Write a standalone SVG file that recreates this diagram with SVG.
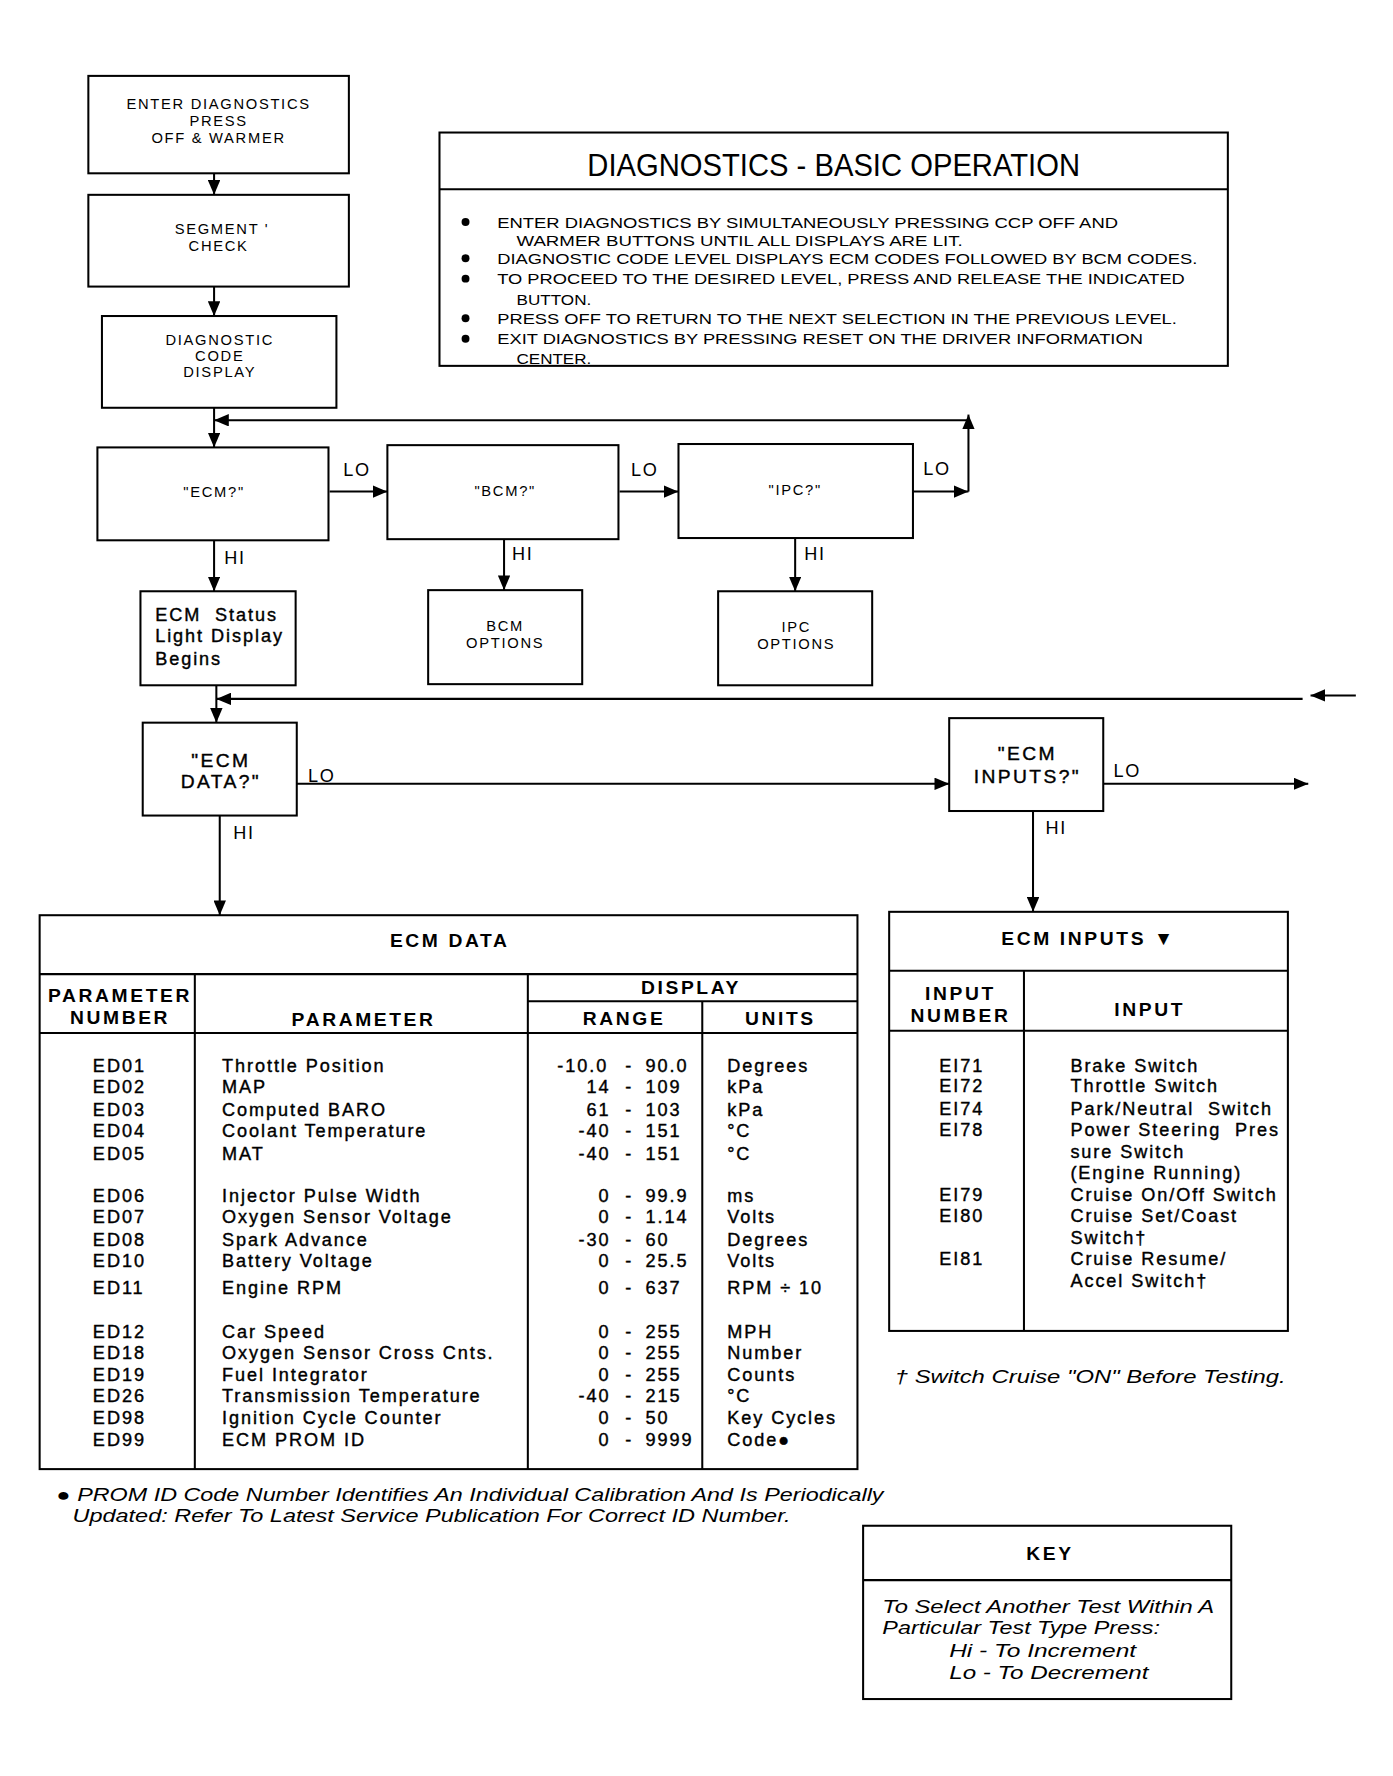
<svg xmlns="http://www.w3.org/2000/svg" width="1393" height="1776" viewBox="0 0 1393 1776">
<defs>
<style>
.bx{fill:#fff;stroke:#000;stroke-width:1.8}
.ln{fill:none;stroke:#000;stroke-width:1.8}
.t{font-family:"Liberation Sans",Arial,sans-serif;fill:#000}
.s{font-size:13px;letter-spacing:1.5px}
.m{font-size:16px;letter-spacing:1.5px}
.b{font-size:17px;font-weight:bold;letter-spacing:2.3px}
.d{font-size:16px;letter-spacing:1.7px;stroke:#000;stroke-width:0.35px}
.q{font-size:17px;letter-spacing:2.1px;stroke:#000;stroke-width:0.35px}
.i{font-size:16px;font-style:italic}
.c{text-anchor:middle}
.e{text-anchor:end}
</style>
<marker id="ah" markerUnits="userSpaceOnUse" markerWidth="13" markerHeight="11" refX="13" refY="5.5" orient="auto">
<path d="M0,0 L13,5.5 L0,11 z" fill="#000"/>
</marker>
</defs>
<rect width="1393" height="1776" fill="#fff"/>
<g transform="scale(1.1327)">

<g id="connectors">
<line class="ln" x1="189" y1="153" x2="189" y2="172" marker-end="url(#ah)"/>
<line class="ln" x1="189" y1="253" x2="189" y2="279" marker-end="url(#ah)"/>
<line class="ln" x1="189" y1="360" x2="189" y2="395" marker-end="url(#ah)"/>
<line class="ln" x1="806" y1="434" x2="855" y2="434" marker-end="url(#ah)"/>
<line class="ln" x1="855" y1="434" x2="855" y2="366" marker-end="url(#ah)"/>
<line class="ln" x1="855" y1="371" x2="189" y2="371" marker-end="url(#ah)"/>
<line class="ln" x1="291" y1="434" x2="342" y2="434" marker-end="url(#ah)"/>
<line class="ln" x1="547" y1="434" x2="599" y2="434" marker-end="url(#ah)"/>
<line class="ln" x1="189" y1="477" x2="189" y2="522" marker-end="url(#ah)"/>
<line class="ln" x1="445" y1="476" x2="445" y2="521" marker-end="url(#ah)"/>
<line class="ln" x1="702" y1="475" x2="702" y2="522" marker-end="url(#ah)"/>
<line class="ln" x1="191" y1="605" x2="191" y2="638" marker-end="url(#ah)"/>
<line class="ln" x1="1150" y1="617" x2="191" y2="617" marker-end="url(#ah)"/>
<line class="ln" x1="1197" y1="614" x2="1157" y2="614" marker-end="url(#ah)"/>
<line class="ln" x1="262" y1="692" x2="838" y2="692" marker-end="url(#ah)"/>
<line class="ln" x1="974" y1="692" x2="1155" y2="692" marker-end="url(#ah)"/>
<line class="ln" x1="194" y1="720" x2="194" y2="808" marker-end="url(#ah)"/>
<line class="ln" x1="912" y1="716" x2="912" y2="805" marker-end="url(#ah)"/>
<text class="t m" x="303" y="420">LO</text>
<text class="t m" x="557" y="420">LO</text>
<text class="t m" x="815" y="419">LO</text>
<text class="t m" x="198" y="498">HI</text>
<text class="t m" x="452" y="494">HI</text>
<text class="t m" x="710" y="494">HI</text>
<text class="t m" x="272" y="690">LO</text>
<text class="t m" x="983" y="686">LO</text>
<text class="t m" x="206" y="741">HI</text>
<text class="t m" x="923" y="736">HI</text>
</g>

<g id="enter">
<rect class="bx" x="78" y="67" width="230" height="86"/>
<text class="t s c" x="193" y="96">ENTER DIAGNOSTICS</text>
<text class="t s c" x="193" y="111">PRESS</text>
<text class="t s c" x="193" y="126">OFF &amp; WARMER</text>
</g>
<g id="segment">
<rect class="bx" x="78" y="172" width="230" height="81"/>
<text class="t s c" x="196" y="207">SEGMENT '</text>
<text class="t s c" x="193" y="222">CHECK</text>
</g>
<g id="codedisplay">
<rect class="bx" x="90" y="279" width="207" height="81"/>
<text class="t s c" x="194" y="305">DIAGNOSTIC</text>
<text class="t s c" x="194" y="319">CODE</text>
<text class="t s c" x="194" y="333">DISPLAY</text>
</g>

<g id="basic">
<rect class="bx" x="388" y="117" width="696" height="206"/>
<line class="ln" x1="388" y1="167" x2="1084" y2="167"/>
<text class="t c" x="736" y="155" font-size="28" textLength="435" lengthAdjust="spacingAndGlyphs">DIAGNOSTICS - BASIC OPERATION</text>
<g class="t" font-size="12.5">
<circle cx="411" cy="196" r="3.5"/>
<circle cx="411" cy="228" r="3.5"/>
<circle cx="411" cy="246" r="3.5"/>
<circle cx="411" cy="281" r="3.5"/>
<circle cx="411" cy="299" r="3.5"/>
<text x="439" y="201" textLength="548" lengthAdjust="spacingAndGlyphs">ENTER DIAGNOSTICS BY SIMULTANEOUSLY PRESSING CCP OFF AND</text>
<text x="456" y="217" textLength="394" lengthAdjust="spacingAndGlyphs">WARMER BUTTONS UNTIL ALL DISPLAYS ARE LIT.</text>
<text x="439" y="233" textLength="618" lengthAdjust="spacingAndGlyphs">DIAGNOSTIC CODE LEVEL DISPLAYS ECM CODES FOLLOWED BY BCM CODES.</text>
<text x="439" y="251" textLength="607" lengthAdjust="spacingAndGlyphs">TO PROCEED TO THE DESIRED LEVEL, PRESS AND RELEASE THE INDICATED</text>
<text x="456" y="269" textLength="66" lengthAdjust="spacingAndGlyphs">BUTTON.</text>
<text x="439" y="286" textLength="600" lengthAdjust="spacingAndGlyphs">PRESS OFF TO RETURN TO THE NEXT SELECTION IN THE PREVIOUS LEVEL.</text>
<text x="439" y="304" textLength="570" lengthAdjust="spacingAndGlyphs">EXIT DIAGNOSTICS BY PRESSING RESET ON THE DRIVER INFORMATION</text>
<text x="456" y="321" textLength="66" lengthAdjust="spacingAndGlyphs">CENTER.</text>
</g>
</g>

<g id="ecmq">
<rect class="bx" x="86" y="395" width="204" height="82"/>
<text class="t s c" x="189" y="439">"ECM?"</text>
</g>
<g id="bcmq">
<rect class="bx" x="342" y="393" width="204" height="83"/>
<text class="t s c" x="446" y="438">"BCM?"</text>
</g>
<g id="ipcq">
<rect class="bx" x="599" y="392" width="207" height="83"/>
<text class="t s c" x="702" y="437">"IPC?"</text>
</g>

<g id="ecmstatus">
<rect class="bx" x="124" y="522" width="137" height="83"/>
<text class="t d" x="137" y="548">ECM&#160;&#160;Status</text>
<text class="t d" x="137" y="567">Light Display</text>
<text class="t d" x="137" y="587">Begins</text>
</g>
<g id="bcmoptions">
<rect class="bx" x="378" y="521" width="136" height="83"/>
<text class="t s c" x="446" y="557">BCM</text>
<text class="t s c" x="446" y="572">OPTIONS</text>
</g>
<g id="ipcoptions">
<rect class="bx" x="634" y="522" width="136" height="83"/>
<text class="t s c" x="703" y="558">IPC</text>
<text class="t s c" x="703" y="573">OPTIONS</text>
</g>

<g id="ecmdataq">
<rect class="bx" x="126" y="638" width="136" height="82"/>
<text class="t q c" x="195" y="677">"ECM</text>
<text class="t q c" x="195" y="696">DATA?"</text>
</g>
<g id="ecminputsq">
<rect class="bx" x="838" y="634" width="136" height="82"/>
<text class="t q c" x="907" y="671">"ECM</text>
<text class="t q c" x="907" y="691">INPUTS?"</text>
</g>

<g id="ecmdata">
<rect class="bx" x="35" y="808" width="722" height="489"/>
<line class="ln" x1="35" y1="860" x2="757" y2="860"/>
<line class="ln" x1="35" y1="912" x2="757" y2="912"/>
<line class="ln" x1="172" y1="860" x2="172" y2="1297"/>
<line class="ln" x1="466" y1="860" x2="466" y2="1297"/>
<line class="ln" x1="620" y1="884" x2="620" y2="1297"/>
<line class="ln" x1="466" y1="884" x2="757" y2="884"/>
<text class="t b c" x="397" y="836">ECM DATA</text>
<text class="t b c" x="106" y="885">PARAMETER</text>
<text class="t b c" x="106" y="904">NUMBER</text>
<text class="t b c" x="321" y="906">PARAMETER</text>
<text class="t b c" x="610" y="878">DISPLAY</text>
<text class="t b c" x="551" y="905">RANGE</text>
<text class="t b c" x="689" y="905">UNITS</text>
<g class="t d">
<text x="82" y="946">ED01</text><text x="196" y="946">Throttle Position</text><text class="e" x="537" y="946">-10.0</text><text x="552" y="946">-</text><text x="570" y="946">90.0</text><text x="642" y="946">Degrees</text>
<text x="82" y="965">ED02</text><text x="196" y="965">MAP</text><text class="e" x="539" y="965">14</text><text x="552" y="965">-</text><text x="570" y="965">109</text><text x="642" y="965">kPa</text>
<text x="82" y="985">ED03</text><text x="196" y="985">Computed BARO</text><text class="e" x="539" y="985">61</text><text x="552" y="985">-</text><text x="570" y="985">103</text><text x="642" y="985">kPa</text>
<text x="82" y="1004">ED04</text><text x="196" y="1004">Coolant Temperature</text><text class="e" x="539" y="1004">-40</text><text x="552" y="1004">-</text><text x="570" y="1004">151</text><text x="642" y="1004">°C</text>
<text x="82" y="1024">ED05</text><text x="196" y="1024">MAT</text><text class="e" x="539" y="1024">-40</text><text x="552" y="1024">-</text><text x="570" y="1024">151</text><text x="642" y="1024">°C</text>
<text x="82" y="1061">ED06</text><text x="196" y="1061">Injector Pulse Width</text><text class="e" x="539" y="1061">0</text><text x="552" y="1061">-</text><text x="570" y="1061">99.9</text><text x="642" y="1061">ms</text>
<text x="82" y="1080">ED07</text><text x="196" y="1080">Oxygen Sensor Voltage</text><text class="e" x="539" y="1080">0</text><text x="552" y="1080">-</text><text x="570" y="1080">1.14</text><text x="642" y="1080">Volts</text>
<text x="82" y="1100">ED08</text><text x="196" y="1100">Spark Advance</text><text class="e" x="539" y="1100">-30</text><text x="552" y="1100">-</text><text x="570" y="1100">60</text><text x="642" y="1100">Degrees</text>
<text x="82" y="1119">ED10</text><text x="196" y="1119">Battery Voltage</text><text class="e" x="539" y="1119">0</text><text x="552" y="1119">-</text><text x="570" y="1119">25.5</text><text x="642" y="1119">Volts</text>
<text x="82" y="1142">ED11</text><text x="196" y="1142">Engine RPM</text><text class="e" x="539" y="1142">0</text><text x="552" y="1142">-</text><text x="570" y="1142">637</text><text x="642" y="1142">RPM ÷ 10</text>
<text x="82" y="1181">ED12</text><text x="196" y="1181">Car Speed</text><text class="e" x="539" y="1181">0</text><text x="552" y="1181">-</text><text x="570" y="1181">255</text><text x="642" y="1181">MPH</text>
<text x="82" y="1200">ED18</text><text x="196" y="1200">Oxygen Sensor Cross Cnts.</text><text class="e" x="539" y="1200">0</text><text x="552" y="1200">-</text><text x="570" y="1200">255</text><text x="642" y="1200">Number</text>
<text x="82" y="1219">ED19</text><text x="196" y="1219">Fuel Integrator</text><text class="e" x="539" y="1219">0</text><text x="552" y="1219">-</text><text x="570" y="1219">255</text><text x="642" y="1219">Counts</text>
<text x="82" y="1238">ED26</text><text x="196" y="1238">Transmission Temperature</text><text class="e" x="539" y="1238">-40</text><text x="552" y="1238">-</text><text x="570" y="1238">215</text><text x="642" y="1238">°C</text>
<text x="82" y="1257">ED98</text><text x="196" y="1257">Ignition Cycle Counter</text><text class="e" x="539" y="1257">0</text><text x="552" y="1257">-</text><text x="570" y="1257">50</text><text x="642" y="1257">Key Cycles</text>
<text x="82" y="1277">ED99</text><text x="196" y="1277">ECM PROM ID</text><text class="e" x="539" y="1277">0</text><text x="552" y="1277">-</text><text x="570" y="1277">9999</text><text x="642" y="1277">Code●</text>
</g>
</g>

<g id="ecminputs">
<rect class="bx" x="785" y="805" width="352" height="370"/>
<line class="ln" x1="785" y1="857" x2="1137" y2="857"/>
<line class="ln" x1="785" y1="910" x2="1137" y2="910"/>
<line class="ln" x1="904" y1="857" x2="904" y2="1175"/>
<text class="t b c" x="961" y="834">ECM INPUTS ▼</text>
<text class="t b c" x="848" y="883">INPUT</text>
<text class="t b c" x="848" y="902">NUMBER</text>
<text class="t b c" x="1015" y="897">INPUT</text>
<g class="t d">
<text class="c" x="849" y="946">EI71</text><text x="945" y="946">Brake Switch</text>
<text class="c" x="849" y="964">EI72</text><text x="945" y="964">Throttle Switch</text>
<text class="c" x="849" y="984">EI74</text><text x="945" y="984">Park/Neutral&#160;&#160;Switch</text>
<text class="c" x="849" y="1003">EI78</text><text x="945" y="1003">Power Steering&#160;&#160;Pres</text>
<text x="945" y="1022">sure Switch</text>
<text x="945" y="1041">(Engine Running)</text>
<text class="c" x="849" y="1060">EI79</text><text x="945" y="1060">Cruise On/Off Switch</text>
<text class="c" x="849" y="1079">EI80</text><text x="945" y="1079">Cruise Set/Coast</text>
<text x="945" y="1098">Switch†</text>
<text class="c" x="849" y="1117">EI81</text><text x="945" y="1117">Cruise Resume/</text>
<text x="945" y="1136">Accel Switch†</text>
</g>
</g>

<g id="notes">
<text class="t i" x="790" y="1221" textLength="345" lengthAdjust="spacingAndGlyphs">† Switch Cruise "ON" Before Testing.</text>
<text class="t i" x="50" y="1325" textLength="730" lengthAdjust="spacingAndGlyphs">● PROM ID Code Number Identifies An Individual Calibration And Is Periodically</text>
<text class="t i" x="64" y="1344" textLength="634" lengthAdjust="spacingAndGlyphs">Updated: Refer To Latest Service Publication For Correct ID Number.</text>
</g>

<g id="key">
<rect class="bx" x="762" y="1347" width="325" height="153"/>
<line class="ln" x1="762" y1="1395" x2="1087" y2="1395"/>
<text class="t b c" x="927" y="1377">KEY</text>
<text class="t i" x="779" y="1424" textLength="293" lengthAdjust="spacingAndGlyphs">To Select Another Test Within A</text>
<text class="t i" x="779" y="1443" textLength="245" lengthAdjust="spacingAndGlyphs">Particular Test Type Press:</text>
<text class="t i" x="838" y="1463" textLength="165" lengthAdjust="spacingAndGlyphs">Hi - To Increment</text>
<text class="t i" x="838" y="1482" textLength="176" lengthAdjust="spacingAndGlyphs">Lo - To Decrement</text>
</g>

</g>
</svg>
